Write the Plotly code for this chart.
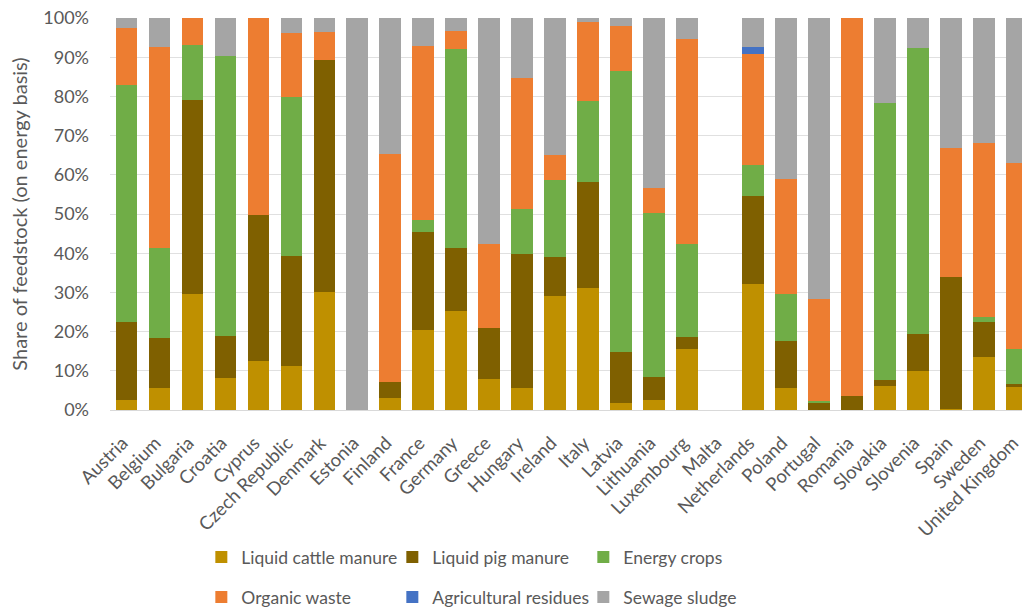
import plotly.graph_objects as go

countries = ["Austria", "Belgium", "Bulgaria", "Croatia", "Cyprus", "Czech Republic",
             "Denmark", "Estonia", "Finland", "France", "Germany", "Greece", "Hungary",
             "Ireland", "Italy", "Latvia", "Lithuania", "Luxembourg", "Malta",
             "Netherlands", "Poland", "Portugal", "Romania", "Slovakia", "Slovenia",
             "Spain", "Sweden", "United Kingdom"]

# Shares of feedstock (%, energy basis)
cattle = [2.6, 5.5, 29.5, 8.1, 12.6, 11.3, 30.0, 0, 3.1, 20.4, 25.3, 7.8, 5.5,
          29.1, 31.0, 1.7, 2.5, 15.5, 0, 32.1, 5.5, 0, 0, 6.1, 9.9, 0.3, 13.4, 5.8]
pig = [19.8, 12.8, 49.5, 10.9, 37.1, 28.0, 59.4, 0, 4.1, 24.9, 16.1, 13.1, 34.4,
       10.0, 27.1, 13.1, 5.9, 3.1, 0, 22.5, 12.0, 1.9, 3.6, 1.5, 9.4, 33.6, 9.0, 0.8]
crops = [60.4, 23.1, 14.0, 71.3, 0, 40.5, 0, 0, 0, 3.2, 50.7, 0, 11.5,
         19.5, 20.8, 71.7, 41.8, 23.7, 0, 8.0, 12.2, 0.4, 0, 70.6, 73.0, 0, 1.2, 8.9]
organic = [14.6, 51.3, 7.0, 0, 50.3, 16.5, 7.1, 0, 58.2, 44.4, 4.7, 21.4, 33.3,
           6.5, 20.0, 11.4, 6.4, 52.4, 0, 28.1, 29.3, 26.0, 96.4, 0, 0, 33.0, 44.5, 47.6]
agri = [0, 0, 0, 0, 0, 0, 0, 0, 0, 0, 0, 0, 0,
        0, 0, 0, 0, 0, 0, 2.0, 0, 0, 0, 0, 0, 0, 0, 0]
sludge = [2.6, 7.3, 0, 9.7, 0, 3.7, 3.5, 100.0, 34.6, 7.1, 3.2, 57.7, 15.3,
          34.9, 1.1, 2.1, 43.4, 5.3, 0, 7.3, 41.0, 71.7, 0, 21.8, 7.7, 33.1, 31.9, 36.9]

series = [
    ("Liquid cattle manure", cattle, "#BF9000", "legend"),
    ("Liquid pig manure", pig, "#7F6000", "legend"),
    ("Energy crops", crops, "#70AD47", "legend"),
    ("Organic waste", organic, "#ED7D31", "legend2"),
    ("Agricultural residues", agri, "#4472C4", "legend2"),
    ("Sewage sludge", sludge, "#A5A5A5", "legend2"),
]

FONT = "Lato, Liberation Sans, sans-serif"
GREY = "#595959"

fig = go.Figure()
for name, vals, color, leg in series:
    fig.add_trace(go.Bar(
        x=countries, y=vals, name=name, legend=leg,
        marker=dict(color=color, line=dict(width=0)),
    ))

legend_style = dict(
    orientation="h", xref="container", yref="container",
    xanchor="left", yanchor="middle", traceorder="normal",
    font=dict(family=FONT, size=17.5, color=GREY),
    itemwidth=30, entrywidth=146, entrywidthmode="pixels",
    bgcolor="rgba(0,0,0,0)",
)

fig.update_layout(
    width=1022, height=610,
    margin=dict(l=110, r=0, t=18, b=200),
    barmode="stack", bargap=0.34,
    plot_bgcolor="white", paper_bgcolor="white",
    font=dict(family=FONT, color=GREY),
    legend=dict(x=0.197, y=1 - 557 / 610, **legend_style),
    legend2=dict(x=0.197, y=1 - 597 / 610, **legend_style),
    xaxis=dict(
        range=[-0.5, 27.15], tickangle=-45, automargin=False,
        tickfont=dict(family=FONT, size=18.5, color=GREY),
        ticklabelstandoff=14, ticklabelshift=-4,
        showline=True, linecolor="#D9D9D9", linewidth=1,
        ticks="", showgrid=False,
    ),
    yaxis=dict(
        range=[0, 100], dtick=10, ticksuffix="%", automargin=False,
        tickfont=dict(family=FONT, size=18, color=GREY),
        ticklabelstandoff=20,
        showgrid=True, gridcolor="#E0E0E0", gridwidth=1,
        zeroline=False, showline=False,
        title=dict(text="Share of feedstock (on energy basis)",
                   font=dict(family=FONT, size=20, color=GREY), standoff=10),
    ),
)

fig.write_html("out.html")
